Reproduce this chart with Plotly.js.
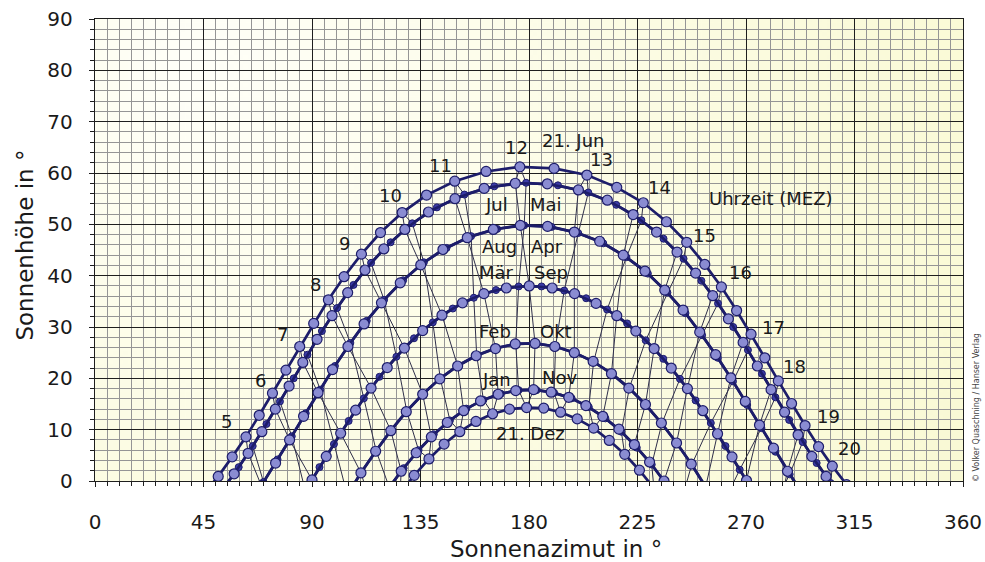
<!DOCTYPE html>
<html>
<head>
<meta charset="utf-8">
<script src="https://cdn.plot.ly/plotly-3.0.1.min.js"></script>
<style>
  html, body { margin: 0; padding: 0; background: #ffffff; }
  #chart { width: 985px; height: 562px; }
</style>
</head>
<body>
<div id="chart"></div>
<script>
// Sun path diagram (latitude ~52 °N): solar azimuth and elevation on the 21st
// of every month, sampled every half hour in CET (MEZ).

// Month order of the series and the clock time (h) of each series' first sample
const monthNames = ['Jan', 'Feb', 'Mär', 'Apr', 'Mai', 'Jun', 'Jul', 'Aug', 'Sep', 'Okt', 'Nov', 'Dez'];
const firstHour  = [7.5, 7.0, 6.0, 5.0, 4.0, 3.5, 4.0, 5.0, 5.5, 6.0, 7.0, 8.0];

// Azimuth (°) and elevation (°) per half hour
const janAz = [116.2, 122.0, 128.0, 134.2, 140.5, 147.2, 154.0, 161.1, 168.3, 175.7, 183.1, 190.4, 197.7, 204.8, 211.7, 218.3, 224.7, 230.9, 236.9, 242.8];
const janEl = [-5.2, -1.2, 2.5, 6.0, 9.1, 11.8, 14.1, 15.8, 17.0, 17.7, 17.7, 17.2, 16.1, 14.4, 12.2, 9.6, 6.5, 3.2, -0.6, -4.5];

const febAz = [104.6, 110.5, 116.6, 122.8, 129.3, 136.1, 143.2, 150.6, 158.3, 166.3, 174.5, 182.8, 191.0, 199.0, 206.8, 214.4, 221.6, 228.5, 235.1, 241.4, 247.5, 253.4, 259.3];
const febEl = [-2.7, 1.7, 5.9, 9.9, 13.6, 17.0, 20.0, 22.5, 24.5, 25.9, 26.7, 26.8, 26.2, 25.0, 23.2, 20.9, 18.1, 14.8, 11.2, 7.3, 3.2, -1.2, -5.6];

const marAz = [87.2, 93.1, 99.1, 105.2, 111.5, 118.0, 125.0, 132.3, 140.1, 148.4, 157.1, 166.3, 175.7, 185.2, 194.6, 203.7, 212.4, 220.7, 228.4, 235.7, 242.6, 249.1, 255.4, 261.5, 267.4, 273.4, 279.3];
const marEl = [-1.9, 2.7, 7.2, 11.7, 16.1, 20.3, 24.2, 27.8, 30.9, 33.6, 35.7, 37.2, 37.9, 37.9, 37.1, 35.6, 33.4, 30.7, 27.4, 23.8, 19.9, 15.7, 11.3, 6.8, 2.2, -2.4, -6.9];

const aprAz = [69.9, 75.7, 81.6, 87.4, 93.4, 99.5, 105.9, 112.7, 119.9, 127.8, 136.4, 145.8, 156.0, 166.8, 178.0, 189.4, 200.4, 210.8, 220.4, 229.3, 237.4, 244.9, 251.8, 258.3, 264.6, 270.5, 276.4, 282.2, 288.1, 294.0];
const aprEl = [-0.2, 4.2, 8.7, 13.2, 17.8, 22.4, 26.9, 31.2, 35.3, 39.1, 42.6, 45.4, 47.7, 49.1, 49.8, 49.5, 48.3, 46.3, 43.6, 40.4, 36.7, 32.7, 28.4, 24.0, 19.4, 14.8, 10.3, 5.7, 1.3, -3.0];

const mayAz = [53.8, 59.6, 65.4, 71.1, 76.7, 82.4, 88.1, 94.1, 100.4, 107.2, 114.5, 122.6, 131.6, 141.8, 153.2, 165.6, 178.8, 192.0, 204.6, 216.2, 226.6, 235.8, 244.1, 251.5, 258.4, 264.7, 270.8, 276.6, 282.2, 287.9, 293.5, 299.3, 305.1];
const mayEl = [-1.1, 2.7, 6.8, 11.1, 15.5, 20.0, 24.6, 29.2, 33.7, 38.2, 42.5, 46.5, 50.2, 53.3, 55.8, 57.4, 58.1, 57.6, 56.2, 53.8, 50.8, 47.2, 43.3, 39.0, 34.6, 30.0, 25.5, 20.9, 16.3, 11.9, 7.6, 3.5, -0.4];

const junAz = [45.1, 51.1, 56.9, 62.6, 68.1, 73.6, 79.2, 84.9, 90.7, 96.8, 103.3, 110.5, 118.4, 127.4, 137.5, 149.2, 162.2, 176.2, 190.4, 204.0, 216.4, 227.4, 237.0, 245.4, 252.9, 259.8, 266.1, 272.1, 277.8, 283.4, 288.9, 294.5, 300.1, 305.8, 311.7];
const junEl = [-2.5, 0.9, 4.7, 8.6, 12.8, 17.1, 21.6, 26.2, 30.7, 35.3, 39.8, 44.2, 48.4, 52.3, 55.7, 58.4, 60.3, 61.2, 60.9, 59.6, 57.2, 54.2, 50.5, 46.5, 42.2, 37.8, 33.2, 28.6, 24.0, 19.5, 15.1, 10.8, 6.7, 2.9, -0.7];

const julAz = [51.8, 57.7, 63.5, 69.2, 74.8, 80.5, 86.2, 92.1, 98.3, 104.8, 112.0, 119.8, 128.5, 138.3, 149.3, 161.4, 174.3, 187.6, 200.5, 212.5, 223.2, 232.9, 241.4, 249.1, 256.2, 262.7, 268.8, 274.7, 280.4, 286.0, 291.6, 297.3, 303.2, 309.1];
const julEl = [-2.3, 1.4, 5.4, 9.6, 14.0, 18.5, 23.1, 27.6, 32.2, 36.7, 41.1, 45.2, 49.0, 52.4, 55.0, 57.0, 58.0, 57.9, 56.7, 54.7, 51.9, 48.5, 44.6, 40.5, 36.1, 31.6, 27.0, 22.4, 17.8, 13.4, 9.0, 4.8, 0.9, -2.9];

const augAz = [69.0, 74.9, 80.7, 86.5, 92.5, 98.5, 104.9, 111.6, 118.8, 126.6, 135.1, 144.3, 154.4, 165.2, 176.4, 187.7, 198.8, 209.3, 219.1, 228.1, 236.3, 243.9, 250.8, 257.4, 263.7, 269.7, 275.6, 281.4, 287.2, 293.2, 299.3];
const augEl = [-0.9, 3.5, 8.0, 12.6, 17.2, 21.7, 26.2, 30.6, 34.7, 38.6, 42.1, 45.1, 47.4, 49.0, 49.8, 49.6, 48.5, 46.7, 44.0, 40.9, 37.2, 33.3, 29.0, 24.6, 20.1, 15.5, 10.9, 6.4, 1.9, -2.4, -6.5];

const sepAz = [84.0, 90.0, 95.9, 101.9, 108.1, 114.5, 121.2, 128.3, 135.9, 143.9, 152.4, 161.3, 170.6, 180.1, 189.6, 198.9, 207.8, 216.4, 224.3, 231.9, 239.0, 245.7, 252.1, 258.2, 264.2, 270.2, 276.1, 282.2];
const sepEl = [-4.4, 0.2, 4.8, 9.3, 13.8, 18.1, 22.1, 25.9, 29.3, 32.3, 34.7, 36.5, 37.6, 38.0, 37.6, 36.5, 34.6, 32.2, 29.2, 25.8, 22.0, 18.0, 13.7, 9.2, 4.7, 0.1, -4.5, -9.0];

const octAz = [98.6, 104.4, 110.3, 116.4, 122.7, 129.1, 135.9, 143.0, 150.4, 158.1, 166.1, 174.3, 182.5, 190.7, 198.8, 206.6, 214.2, 221.4, 228.3, 234.9, 241.2, 247.3, 253.3, 259.2, 265.0];
const octEl = [-7.3, -2.8, 1.6, 5.8, 9.8, 13.5, 16.9, 19.9, 22.4, 24.4, 25.8, 26.7, 26.8, 26.2, 25.0, 23.3, 20.9, 18.1, 14.9, 11.3, 7.4, 3.3, -1.1, -5.5, -10.1];

const novAz = [115.3, 121.1, 127.0, 133.2, 139.5, 146.1, 152.9, 159.9, 167.2, 174.5, 181.9, 189.2, 196.5, 203.6, 210.6, 217.3, 223.7, 230.0, 236.0, 241.8];
const novEl = [-5.9, -1.9, 1.9, 5.5, 8.6, 11.4, 13.7, 15.6, 16.9, 17.6, 17.8, 17.3, 16.3, 14.7, 12.6, 10.1, 7.1, 3.7, 0.0, -3.9];

const decAz = [126.5, 132.4, 138.5, 144.8, 151.3, 158.0, 164.9, 171.9, 179.0, 186.1, 193.1, 200.0, 206.8, 213.3, 219.7, 225.8, 231.8];
const decEl = [-2.4, 1.1, 4.3, 7.2, 9.6, 11.6, 13.1, 14.0, 14.3, 14.2, 13.4, 12.1, 10.3, 7.9, 5.2, 2.1, -1.4];

// Clock hours (CET) that get an hour line; hours printed next to the 21 June path
const lineHours  = [4, 5, 6, 7, 8, 9, 10, 11, 12, 13, 14, 15, 16, 17, 18, 19, 20];
const hourLabels = [5, 6, 7, 8, 9, 10, 11, 12, 13, 14, 15, 16, 17, 18, 19, 20];

// Date labels inside the diagram
const dateLabels = ['21. Jun', 'Jul', 'Mai', 'Aug', 'Apr', 'Mär', 'Sep', 'Feb', 'Okt', 'Jan', 'Nov', '21. Dez'];

// ---- layout helpers (positions / styles) ----
const azimuths   = [janAz, febAz, marAz, aprAz, mayAz, junAz, julAz, augAz, sepAz, octAz, novAz, decAz];
const elevations = [janEl, febEl, marEl, aprEl, mayEl, junEl, julEl, augEl, sepEl, octEl, novEl, decEl];

const hourLabelShift = {
  5: [-19, 15], 6: [-12, 13], 7: [-17, 12], 8: [-13, 15], 9: [-17, 11], 10: [-12, 17],
  11: [-14, 16], 12: [-3, 19], 13: [15, 16], 14: [16, 15], 15: [18, 7], 16: [19, 14],
  17: [22, 7], 18: [16, 14], 19: [23, 9], 20: [17, 18]
};
const dateLabelPos = [
  [198.3, 66.4], [166.7, 53.8], [187.1, 53.8], [167.6, 45.6], [187.5, 45.6], [166.7, 40.7],
  [189.1, 40.7], [166.1, 29.2], [191.2, 29.2], [166.7, 19.7], [192.5, 20.1], [180.8, 9.2]
];

const NAVY = '#1d1d6a';
const TEXT = '#1a1a1a';
const FONT = 'DejaVu Sans, Verdana, sans-serif';

// Soft paper-like fill for the plotting area: whitish top left, pale yellow elsewhere
function backgroundImage() {
  const c = document.createElement('canvas');
  c.width = 360; c.height = 200;
  const g = c.getContext('2d');
  const grad = g.createRadialGradient(40, 20, 10, 120, 80, 360);
  grad.addColorStop(0, '#fffff8');
  grad.addColorStop(0.45, '#fcfce2');
  grad.addColorStop(1, '#f8f8cc');
  g.fillStyle = grad;
  g.fillRect(0, 0, c.width, c.height);
  return c.toDataURL('image/png');
}

function sampleIndex(m, hour) {
  const idx = Math.round((hour - firstHour[m]) * 2);
  return (idx >= 0 && idx < azimuths[m].length) ? idx : -1;
}

const traces = [];

// Hour lines (analemma-like loops) linking the same clock time through the year
lineHours.forEach(function (h) {
  const xs = [], ys = [];
  const order = [0, 1, 2, 3, 4, 5, 6, 7, 8, 9, 10, 11, 0];
  order.forEach(function (m) {
    const i = sampleIndex(m, h);
    if (i < 0) { xs.push(null); ys.push(null); }
    else { xs.push(azimuths[m][i]); ys.push(elevations[m][i]); }
  });
  traces.push({
    type: 'scatter', mode: 'lines', x: xs, y: ys,
    line: { color: '#2f2f4a', width: 1 },
    connectgaps: false, hoverinfo: 'skip', showlegend: false
  });
});

// Daily sun paths: Jan–May with small dark markers, Jun–Dec with large light markers
const smallMarker = { size: 7, color: '#3b3ba6', line: { color: NAVY, width: 1 } };
const largeMarker = { size: 10, color: '#8a8cd2', line: { color: NAVY, width: 1.2 } };
[0, 1, 2, 3, 4, 5, 6, 7, 8, 9, 10, 11].forEach(function (m) {
  traces.push({
    type: 'scatter', mode: 'lines+markers', name: monthNames[m],
    x: azimuths[m], y: elevations[m],
    line: { color: NAVY, width: 2.7 },
    marker: m < 5 ? smallMarker : largeMarker,
    showlegend: false
  });
});

const annotations = [];

hourLabels.forEach(function (h) {
  const i = sampleIndex(5, h);
  annotations.push({
    x: azimuths[5][i], y: elevations[5][i], xref: 'x', yref: 'y',
    text: String(h), showarrow: false,
    xshift: hourLabelShift[h][0], yshift: hourLabelShift[h][1],
    font: { family: FONT, size: 18, color: TEXT }
  });
});

dateLabels.forEach(function (t, k) {
  annotations.push({
    x: dateLabelPos[k][0], y: dateLabelPos[k][1], xref: 'x', yref: 'y',
    text: t, showarrow: false,
    font: { family: FONT, size: 18, color: TEXT }
  });
});

annotations.push({
  x: 280.4, y: 55.1, xref: 'x', yref: 'y', text: 'Uhrzeit (MEZ)', showarrow: false,
  font: { family: FONT, size: 18, color: TEXT }
});

// Axis titles
annotations.push({
  x: 0.531, y: -0.147, xref: 'paper', yref: 'paper', text: 'Sonnenazimut in °',
  showarrow: false, xanchor: 'center', yanchor: 'middle',
  font: { family: FONT, size: 23, color: TEXT }
});
annotations.push({
  x: -0.081, y: 0.511, xref: 'paper', yref: 'paper', text: 'Sonnenhöhe in °',
  showarrow: false, textangle: -90, xanchor: 'center', yanchor: 'middle',
  font: { family: FONT, size: 23, color: TEXT }
});

// Copyright note along the right edge
annotations.push({
  x: 1.015, y: 0.158, xref: 'paper', yref: 'paper',
  text: '© Volker Quaschning / Hanser Verlag', showarrow: false, textangle: -90,
  xanchor: 'center', yanchor: 'middle',
  font: { family: FONT, size: 8, color: '#444444' }
});

const layout = {
  width: 985, height: 562,
  margin: { l: 95, r: 22, t: 19, b: 81, pad: 0 },
  paper_bgcolor: '#ffffff',
  plot_bgcolor: '#fbfbde',
  showlegend: false,
  images: [{
    source: backgroundImage(), xref: 'x', yref: 'y',
    x: 0, y: 90, sizex: 360, sizey: 90, sizing: 'stretch',
    xanchor: 'left', yanchor: 'top', layer: 'below'
  }],
  xaxis: {
    range: [0, 360], tick0: 0, dtick: 45, fixedrange: true,
    showgrid: true, gridcolor: '#1e1e1e', gridwidth: 1,
    zeroline: false, showline: true, linecolor: '#1e1e1e', linewidth: 1.2, mirror: true,
    ticks: 'outside', ticklen: 5, tickcolor: '#1e1e1e',
    ticklabelstandoff: 18,
    tickfont: { family: FONT, size: 20, color: TEXT },
    minor: { dtick: 5, showgrid: true, gridcolor: '#959595', gridwidth: 1,
             ticks: 'outside', ticklen: 4, tickcolor: '#1e1e1e' }
  },
  yaxis: {
    range: [0, 90], tick0: 0, dtick: 10, fixedrange: true,
    showgrid: true, gridcolor: '#1e1e1e', gridwidth: 1,
    zeroline: false, showline: true, linecolor: '#1e1e1e', linewidth: 1.2, mirror: true,
    ticks: 'outside', ticklen: 5, tickcolor: '#1e1e1e',
    ticklabelstandoff: 12,
    tickfont: { family: FONT, size: 20, color: TEXT },
    minor: { dtick: 2, showgrid: true, gridcolor: '#959595', gridwidth: 1,
             ticks: 'outside', ticklen: 4, tickcolor: '#1e1e1e' }
  },
  annotations: annotations
};

Plotly.newPlot('chart', traces, layout, { displayModeBar: false, staticPlot: true });
</script>
</body>
</html>
